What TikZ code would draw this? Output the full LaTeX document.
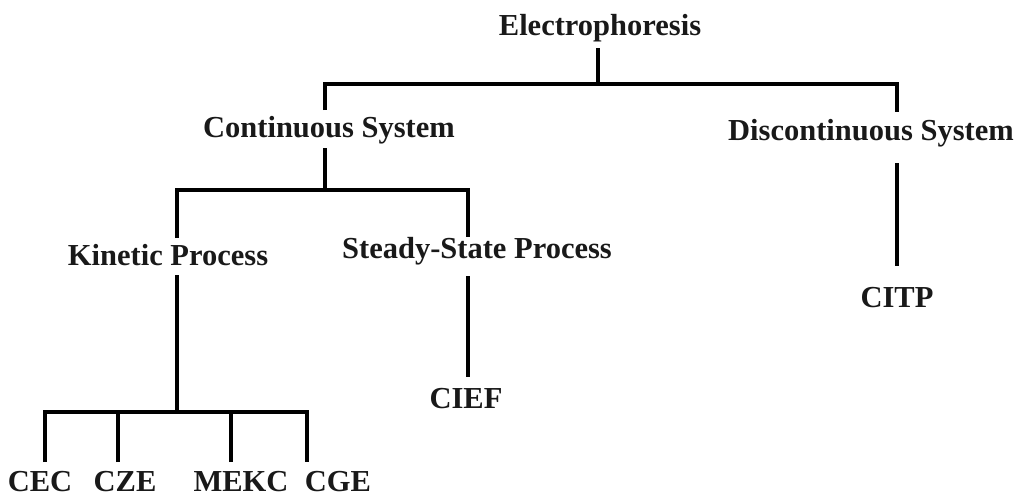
\documentclass[tikz,border=0pt]{standalone}
\usepackage{fontspec}
\setmainfont{Liberation Serif}
\begin{document}
\begin{tikzpicture}[x=1pt,y=-1pt,
  lbl/.style={font=\fontsize{30.5}{36}\selectfont\bfseries, inner sep=0pt, anchor=base, text=black!90},
  conn/.style={line width=3.5pt, line cap=butt}]
\useasboundingbox (0,0) rectangle (1020,496);
% labels
\node[lbl] (e)    at (600,35)  {Electrophoresis};
\node[lbl] (cs)   at (329,137) {Continuous System};
\node[lbl] (ds)   at (871,140) {Discontinuous System};
\node[lbl] (kp)   at (168,265) {Kinetic Process};
\node[lbl] (ssp)  at (477,258) {Steady-State Process};
\node[lbl] (cief) at (466,408) {CIEF};
\node[lbl] (citp) at (897,307) {CITP};
\node[lbl] (cec)  at (40,491)  {CEC};
\node[lbl] (cze)  at (125,491) {CZE};
\node[lbl] (mekc) at (241,491) {MEKC};
\node[lbl] (cge)  at (338,491) {CGE};
% connector end points
\coordinate (eb)  at (598,48);
\coordinate (csT) at (325,110);
\coordinate (dsT) at (897,112);
\coordinate (csB) at (325,148);
\coordinate (kpT) at (177,238);
\coordinate (sspT) at (468,237);
\coordinate (sspB) at (468,276);
\coordinate (ciefT) at (468,377);
\coordinate (dsB) at (897,163);
\coordinate (citpT) at (897,266);
\coordinate (kpB) at (177,275);
\coordinate (kpJ) at (177,412);
\coordinate (cecT) at (45,462);
\coordinate (czeT) at (118,462);
\coordinate (mekcT) at (231,462);
\coordinate (cgeT) at (307,462);
% connectors
\draw[conn] (eb) -- (598,84);
\draw[conn] (csT) |- (dsT |- 0,84) -- (dsT);
\draw[conn] (csB) -- (325,190);
\draw[conn] (kpT) |- (sspT |- 0,190) -- (sspT);
\draw[conn] (sspB) -- (ciefT);
\draw[conn] (dsB) -- (citpT);
\draw[conn] (kpB) -- (kpJ);
\draw[conn] (cecT) |- (cgeT |- kpJ) -- (cgeT);
\draw[conn] (czeT) -- (czeT |- kpJ);
\draw[conn] (mekcT) -- (mekcT |- kpJ);
\end{tikzpicture}
\end{document}
